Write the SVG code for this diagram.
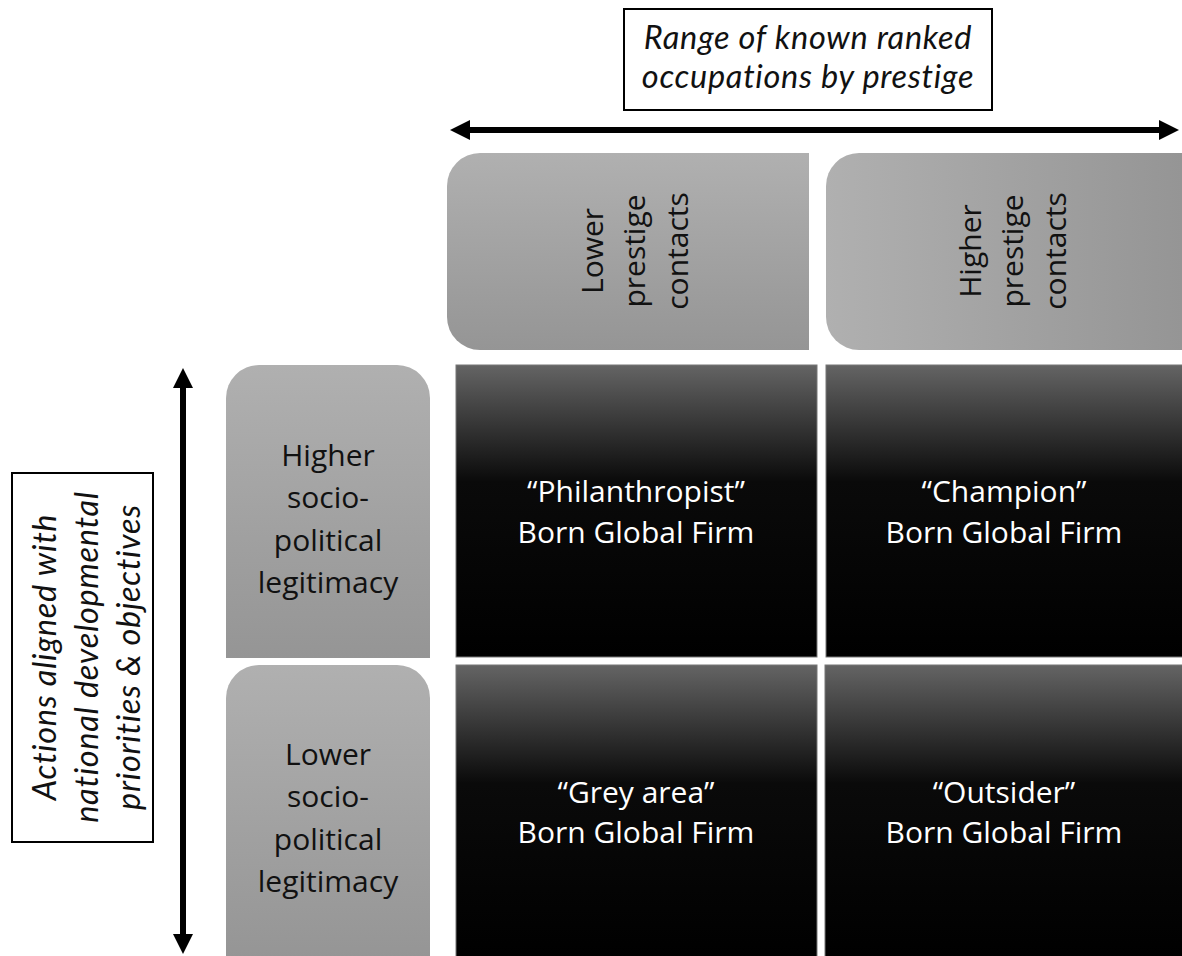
<svg xmlns="http://www.w3.org/2000/svg" width="1182" height="956" viewBox="0 0 1182 956">
<style>
.lbl{font-family:"Open Sans","Liberation Sans",sans-serif;font-size:30px;fill:#111;text-anchor:middle}
.it{font-family:Lato,"Open Sans",sans-serif;font-size:32.5px;letter-spacing:0.7px;font-style:italic;fill:#111;text-anchor:middle}
.cell{font-family:"Open Sans","Liberation Sans",sans-serif;font-size:30px;fill:#fff;text-anchor:middle}
.box{fill:#fff;stroke:#000;stroke-width:2}
.dark{fill:url(#gDark);stroke:#777;stroke-width:1}
.arrow{stroke:#000;stroke-width:6;fill:none}
</style>
<defs>
<linearGradient id="gV" x1="0" y1="0" x2="0" y2="1"><stop offset="0" stop-color="#b0b0b0"/><stop offset="1" stop-color="#959595"/></linearGradient>
<linearGradient id="gH" x1="0" y1="0" x2="1" y2="0"><stop offset="0" stop-color="#b0b0b0"/><stop offset="1" stop-color="#959595"/></linearGradient>
<linearGradient id="gDark" x1="0" y1="0" x2="0" y2="1"><stop offset="0" stop-color="#646464"/><stop offset="0.4" stop-color="#0a0a0a"/><stop offset="1" stop-color="#000"/></linearGradient>
<marker id="ah" viewBox="0 0 20 20" markerWidth="20" markerHeight="20" markerUnits="userSpaceOnUse" refX="1" refY="10" orient="auto-start-reverse"><path d="M0,0 L20,10 L0,20 Z" fill="#000"/></marker>
</defs>

<g id="axis-x-label">
<rect class="box" x="624" y="9" width="368" height="101"/>
<text class="it"><tspan x="808" y="49">Range of known ranked</tspan><tspan x="808" y="88">occupations by prestige</tspan></text>
</g>

<g id="axis-y-label">
<rect class="box" x="12" y="473" width="141" height="369"/>
<text class="it" transform="translate(0,657) rotate(-90)"><tspan x="0" y="56">Actions aligned with</tspan><tspan x="0" y="98">national developmental</tspan><tspan x="0" y="140">priorities &amp; objectives</tspan></text>
</g>

<g id="connectors">
<line class="arrow" x1="469" y1="130" x2="1160" y2="130" marker-start="url(#ah)" marker-end="url(#ah)"/>
<line class="arrow" x1="183" y1="387" x2="183" y2="935" marker-start="url(#ah)" marker-end="url(#ah)"/>
</g>

<g id="col-lower">
<path d="M480,153 H809 V350 H480 A33,33 0 0 1 447,317 V186 A33,33 0 0 1 480,153 Z" fill="url(#gV)"/>
<text class="lbl" transform="translate(0,251) rotate(-90)"><tspan x="0" y="603">Lower</tspan><tspan x="0" y="645">prestige</tspan><tspan x="0" y="688">contacts</tspan></text>
</g>

<g id="col-higher">
<path d="M859,153 H1182 V350 H859 A33,33 0 0 1 826,317 V186 A33,33 0 0 1 859,153 Z" fill="url(#gH)"/>
<text class="lbl" transform="translate(0,251) rotate(-90)"><tspan x="0" y="981">Higher</tspan><tspan x="0" y="1023">prestige</tspan><tspan x="0" y="1066">contacts</tspan></text>
</g>

<g id="row-higher">
<path d="M259,365 H397 A33,33 0 0 1 430,398 V658 H226 V398 A33,33 0 0 1 259,365 Z" fill="url(#gV)"/>
<text class="lbl"><tspan x="328" y="466">Higher</tspan><tspan x="328" y="508">socio-</tspan><tspan x="328" y="551">political</tspan><tspan x="328" y="593">legitimacy</tspan></text>
</g>

<g id="row-lower">
<path d="M259,665 H397 A33,33 0 0 1 430,698 V960 H226 V698 A33,33 0 0 1 259,665 Z" fill="url(#gV)"/>
<text class="lbl"><tspan x="328" y="765">Lower</tspan><tspan x="328" y="807">socio-</tspan><tspan x="328" y="850">political</tspan><tspan x="328" y="892">legitimacy</tspan></text>
</g>

<g id="cell-philanthropist">
<rect class="dark" x="456" y="365" width="361" height="292"/>
<text class="cell"><tspan x="636" y="502">“Philanthropist”</tspan><tspan x="636" y="543">Born Global Firm</tspan></text>
</g>

<g id="cell-champion">
<rect class="dark" x="826" y="365" width="360" height="292"/>
<text class="cell"><tspan x="1004" y="502">“Champion”</tspan><tspan x="1004" y="543">Born Global Firm</tspan></text>
</g>

<g id="cell-grey-area">
<rect class="dark" x="456" y="665" width="361" height="296"/>
<text class="cell"><tspan x="636" y="803">“Grey area”</tspan><tspan x="636" y="843">Born Global Firm</tspan></text>
</g>

<g id="cell-outsider">
<rect class="dark" x="825" y="665" width="361" height="296"/>
<text class="cell"><tspan x="1004" y="803">“Outsider”</tspan><tspan x="1004" y="843">Born Global Firm</tspan></text>
</g>
</svg>
